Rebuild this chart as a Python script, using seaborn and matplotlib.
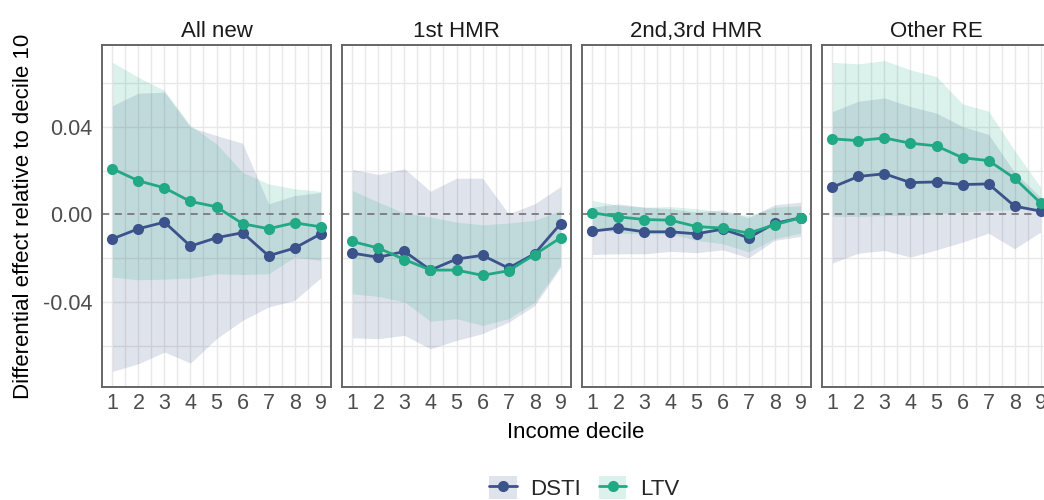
import numpy as np
import pandas as pd
import matplotlib
matplotlib.use("Agg")
import matplotlib.pyplot as plt
import seaborn as sns
from matplotlib.lines import Line2D
from matplotlib.patches import Patch
from matplotlib.legend_handler import HandlerTuple

deciles = [1, 2, 3, 4, 5, 6, 7, 8, 9]
panels = ["All new", "1st HMR", "2nd,3rd HMR", "Other RE"]
measures = ["DSTI", "LTV"]

# All new
dsti_all = [-0.0111, -0.0065, -0.0035, -0.0144, -0.0106, -0.0083, -0.0188, -0.0153, -0.0089]
dsti_all_lo = [-0.0714, -0.0679, -0.0626, -0.0676, -0.0565, -0.0482, -0.0421, -0.0391, -0.0289]
dsti_all_hi = [0.0495, 0.0552, 0.0556, 0.0397, 0.0359, 0.0324, 0.0048, 0.0086, 0.0100]
ltv_all = [0.0208, 0.0153, 0.0121, 0.0059, 0.0035, -0.0042, -0.0065, -0.0038, -0.0056]
ltv_all_lo = [-0.0285, -0.0297, -0.0294, -0.0289, -0.0270, -0.0273, -0.0270, -0.0194, -0.0209]
ltv_all_hi = [0.0692, 0.0624, 0.0564, 0.0405, 0.0321, 0.0192, 0.0139, 0.0117, 0.0105]

# 1st HMR
dsti_h1 = [-0.0176, -0.0195, -0.0168, -0.0253, -0.0203, -0.0186, -0.0244, -0.0179, -0.0042]
dsti_h1_lo = [-0.0561, -0.0565, -0.0550, -0.0611, -0.0573, -0.0542, -0.0490, -0.0415, -0.0240]
dsti_h1_hi = [0.0205, 0.0182, 0.0208, 0.0106, 0.0165, 0.0165, 0.0003, 0.0048, 0.0127]
ltv_h1 = [-0.0123, -0.0153, -0.0205, -0.0253, -0.0253, -0.0277, -0.0256, -0.0183, -0.0106]
ltv_h1_lo = [-0.0361, -0.0373, -0.0398, -0.0486, -0.0474, -0.0505, -0.0474, -0.0400, -0.0230]
ltv_h1_hi = [0.0109, 0.0056, 0.0006, -0.0012, -0.0035, -0.0047, -0.0039, -0.0027, 0.0018]

# 2nd,3rd HMR
dsti_h2 = [-0.0076, -0.0062, -0.0079, -0.0079, -0.0088, -0.0067, -0.0106, -0.0041, -0.0015]
dsti_h2_lo = [-0.0182, -0.0179, -0.0179, -0.0168, -0.0174, -0.0161, -0.0197, -0.0118, -0.0100]
dsti_h2_hi = [0.0033, 0.0048, 0.0033, 0.0026, 0.0011, 0.0021, -0.0015, 0.0044, 0.0056]
ltv_h2 = [0.0008, -0.0011, -0.0023, -0.0026, -0.0055, -0.0062, -0.0085, -0.0047, -0.0015]
ltv_h2_lo = [-0.0060, -0.0085, -0.0088, -0.0088, -0.0118, -0.0133, -0.0170, -0.0110, -0.0085]
ltv_h2_hi = [0.0064, 0.0041, 0.0033, 0.0036, 0.0026, 0.0011, -0.0005, 0.0033, 0.0039]

# Other RE
dsti_re = [0.0124, 0.0173, 0.0185, 0.0145, 0.0148, 0.0136, 0.0139, 0.0038, 0.0015]
dsti_re_lo = [-0.0221, -0.0176, -0.0164, -0.0194, -0.0161, -0.0126, -0.0085, -0.0156, -0.0080]
dsti_re_hi = [0.0468, 0.0515, 0.0530, 0.0491, 0.0461, 0.0400, 0.0364, 0.0192, 0.0079]
ltv_re = [0.0344, 0.0336, 0.0348, 0.0324, 0.0312, 0.0258, 0.0245, 0.0165, 0.0052]
ltv_re_lo = [-0.0008, -0.0009, -0.0005, -0.0005, 0.0003, 0.0011, 0.0018, 0.0021, 0.0026]
ltv_re_hi = [0.0692, 0.0685, 0.0700, 0.0658, 0.0627, 0.0503, 0.0470, 0.0291, 0.0124]

series = {
    "All new": {"DSTI": (dsti_all, dsti_all_lo, dsti_all_hi), "LTV": (ltv_all, ltv_all_lo, ltv_all_hi)},
    "1st HMR": {"DSTI": (dsti_h1, dsti_h1_lo, dsti_h1_hi), "LTV": (ltv_h1, ltv_h1_lo, ltv_h1_hi)},
    "2nd,3rd HMR": {"DSTI": (dsti_h2, dsti_h2_lo, dsti_h2_hi), "LTV": (ltv_h2, ltv_h2_lo, ltv_h2_hi)},
    "Other RE": {"DSTI": (dsti_re, dsti_re_lo, dsti_re_hi), "LTV": (ltv_re, ltv_re_lo, ltv_re_hi)},
}

rows = []
for p in panels:
    for m in measures:
        est, lo, hi = series[p][m]
        for d, e, l, h in zip(deciles, est, lo, hi):
            rows.append({"panel": p, "measure": m, "decile": d, "est": e, "lo": l, "hi": h})
df = pd.DataFrame(rows)

sns.set_theme(style="white")
plt.rcParams["font.family"] = ["Liberation Sans", "DejaVu Sans"]

palette = {"DSTI": "#3b528b", "LTV": "#21a884"}
ALPHA = 0.16

W, H = 1044, 500
fig = plt.figure(figsize=(W / 100, H / 100), dpi=100)

panel_w = 229
gap = 11
left0 = 102
top_px, bot_px = 45, 387
axes = []
for i, p in enumerate(panels):
    lx = left0 + i * (panel_w + gap)
    ax = fig.add_axes([lx / W, 1 - bot_px / H, panel_w / W, (bot_px - top_px) / H])
    axes.append(ax)
    sub = df[df.panel == p]
    for yv in [-0.06, -0.04, -0.02, 0.02, 0.04, 0.06]:
        ax.axhline(yv, color="#e8e8e8", lw=1.0, zorder=0)
    for xv in np.arange(1, 9.01, 0.5):
        ax.axvline(xv, color="#e8e8e8", lw=1.0, zorder=0)
    for m in measures:
        s = sub[sub.measure == m]
        ax.fill_between(s["decile"], s["lo"], s["hi"], color=palette[m], alpha=ALPHA, lw=0, zorder=1)
    ax.axhline(0, color="#7a7a7a", lw=1.3, ls=(0, (4, 3)), zorder=2)
    sns.lineplot(data=sub, x="decile", y="est", hue="measure", palette=palette,
                 hue_order=measures, marker="o", markersize=8, markeredgewidth=0,
                 linewidth=2.0, ax=ax, legend=False, zorder=3)
    ax.set_xlim(0.6, 9.4)
    ax.set_ylim(-0.0785, 0.0771)
    ax.set_xticks(deciles)
    ax.set_xticklabels([str(d) for d in deciles])
    ax.set_yticks([-0.04, 0.0, 0.04])
    if i == 0:
        ax.set_yticklabels(["-0.04", "0.00", "0.04"])
    else:
        ax.set_yticklabels([])
    ax.tick_params(axis="both", length=0, labelsize=15.5, labelcolor="#4d4d4d", pad=4)
    if i == 0:
        ax.tick_params(axis="y", length=3, color="#b3b3b3", width=0.8)
    ax.set_xlabel("")
    ax.set_ylabel("")
    for sp in ax.spines.values():
        sp.set_color("#666666")
        sp.set_linewidth(1.4)
    ax.set_title(p, fontsize=16, color="#1a1a1a", pad=6)

axes[0].set_ylabel("Differential effect relative to decile 10", fontsize=16, color="#000000", labelpad=6)
fig.text(576 / W, 1 - 432 / H, "Income decile", ha="center", va="center", fontsize=16, color="#000000")

handles = []
for m in measures:
    handles.append((Patch(facecolor=palette[m], alpha=ALPHA, edgecolor="none"),
                    Line2D([0], [0], color=palette[m], lw=2.0, marker="o", markersize=7)))
fig.legend(handles=handles, labels=measures, handler_map={tuple: HandlerTuple(ndivide=1, pad=0)},
           loc="center", bbox_to_anchor=(584 / W, 1 - 488 / H), ncol=2, frameon=False,
           fontsize=16, handlelength=1.25, handleheight=1.2, columnspacing=0.8, handletextpad=0.6,
           borderaxespad=0)

fig.savefig("out.png", dpi=100)
